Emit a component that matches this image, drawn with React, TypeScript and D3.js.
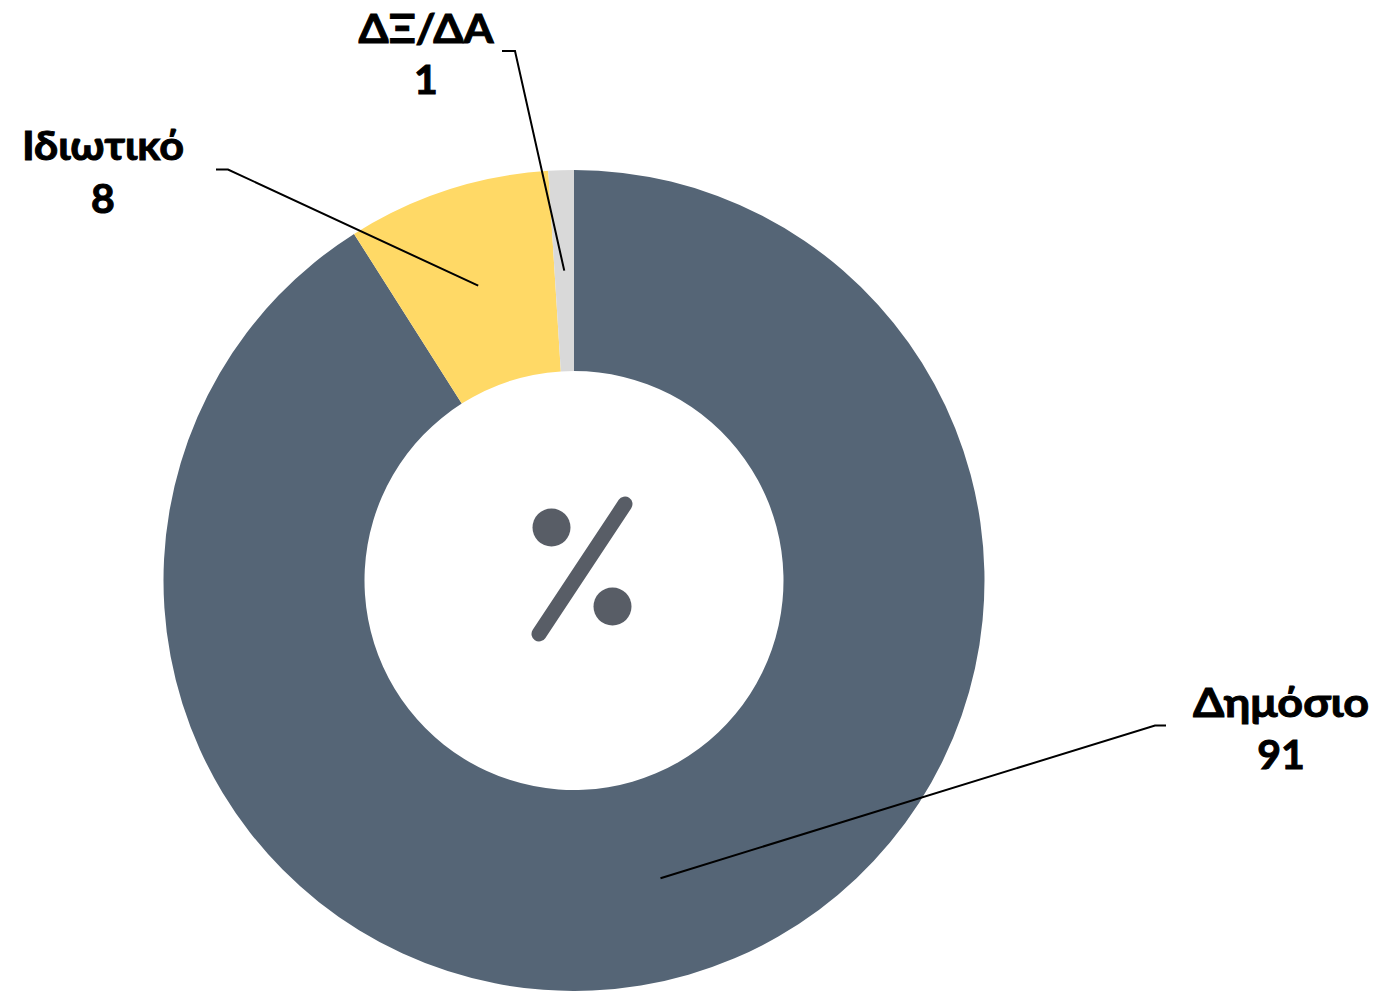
import React from "react";
import * as d3 from "d3";

const categories = ["Δημόσιο", "Ιδιωτικό", "ΔΞ/ΔΑ"];
const values = [91, 8, 1];
const colors = ["#556576", "#FFD966", "#D9D9D9"];

const WIDTH = 1379;
const HEIGHT = 991;
const CX = 574;
const CY = 580.5;
const OUTER = 410.5;
const INNER = 209.5;
const FONT = "Lato, 'Open Sans', sans-serif";
const ICON = "#585D66";

// label layout: text centre, baseline rows, elbow and end of each leader line
const labelLayout = [
  { x: 1281, y1: 717, y2: 769, elbow: [1155, 725.5], end: [1166, 725.5], width: 176 },
  { x: 103, y1: 160, y2: 213, elbow: [228, 169.5], end: [216, 169.5], width: 162 },
  { x: 426, y1: 43, y2: 94, elbow: [515, 51], end: [502, 51], width: 135 },
];

export default function App() {
  const pie = d3.pie<number>().sort(null).startAngle(0).endAngle(2 * Math.PI);
  const arc = d3.arc<d3.PieArcDatum<number>>().innerRadius(INNER).outerRadius(OUTER);
  const arcs = pie(values);
  const line = d3.line();

  return (
    <svg
      width={WIDTH}
      height={HEIGHT}
      viewBox={`0 0 ${WIDTH} ${HEIGHT}`}
      style={{ position: "absolute", left: 0, top: 0, background: "#fff" }}
    >
      <g transform={`translate(${CX},${CY})`}>
        {arcs.map((a, i) => (
          <path key={categories[i]} d={arc(a) as string} fill={colors[i]} />
        ))}
      </g>
      <g fill={ICON}>
        <circle cx={551.5} cy={527.5} r={19} />
        <circle cx={612.5} cy={606.5} r={19} />
        <line x1={539} y1={634} x2={625} y2={504} stroke={ICON} strokeWidth={15} strokeLinecap="round" />
      </g>
      {arcs.map((a, i) => {
        const [cx, cy] = arc.centroid(a);
        const l = labelLayout[i];
        const d = line([[CX + cx, CY + cy], l.elbow as [number, number], l.end as [number, number]]) as string;
        return <path key={i} d={d} fill="none" stroke="#000" strokeWidth={2} />;
      })}
      {arcs.map((a, i) => {
        const l = labelLayout[i];
        return (
          <g key={i} fontFamily={FONT} fontWeight={700} fontSize={41} textAnchor="middle" fill="#000" stroke="#000" strokeWidth={1}>
            <text x={l.x} y={l.y1} textLength={l.width} lengthAdjust="spacingAndGlyphs">{categories[i]}</text>
            <text x={l.x} y={l.y2}>{values[i]}</text>
          </g>
        );
      })}
    </svg>
  );
}
